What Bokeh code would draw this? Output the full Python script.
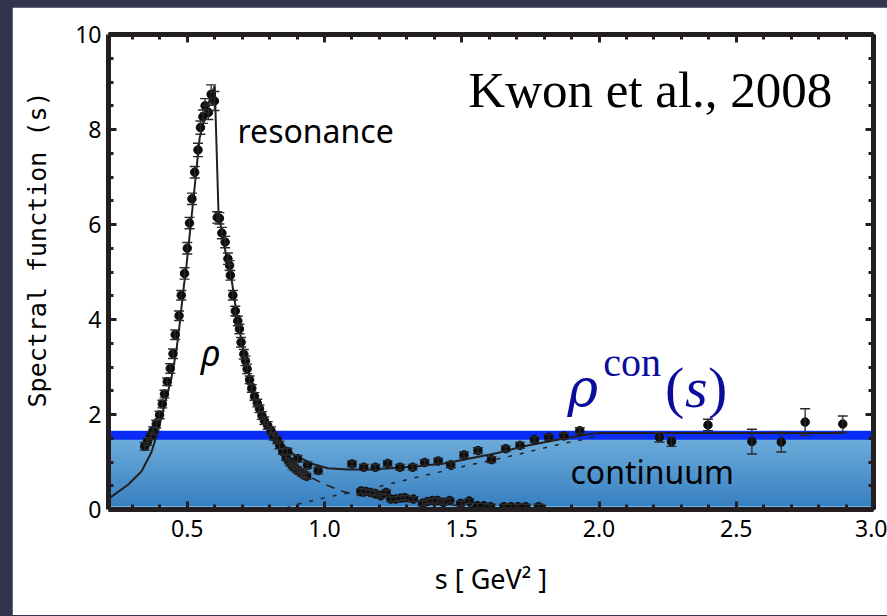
from bokeh.plotting import figure
from bokeh.models import (ColumnDataSource, Whisker, TeeHead, BoxAnnotation, Label,
                          LinearAxis, SingleIntervalTicker, PrintfTickFormatter, Range1d,
                          CustomJSTickFormatter)
from bokeh.embed import file_html
from bokeh.resources import INLINE

# ---------------- data ----------------
s_data = [0.345, 0.355, 0.367, 0.375, 0.387, 0.399, 0.409, 0.417, 0.427, 0.438,
          0.448, 0.456, 0.470, 0.478, 0.490, 0.500, 0.508, 0.517, 0.527, 0.539,
          0.548, 0.557, 0.565, 0.577, 0.587, 0.599,
          0.609, 0.617, 0.626, 0.638, 0.648, 0.654, 0.657, 0.666, 0.675, 0.684,
          0.690, 0.696, 0.706, 0.712, 0.718, 0.727, 0.735, 0.745, 0.755, 0.763,
          0.772, 0.781, 0.793, 0.805, 0.815, 0.827, 0.836,
          0.865, 0.902, 0.938, 0.977,
          0.848, 0.860, 0.870, 0.876, 0.883, 0.890, 0.899, 0.908, 0.918, 0.927, 0.935,
          1.100, 1.143, 1.185, 1.230, 1.275, 1.321, 1.365, 1.414, 1.460, 1.508,
          1.559, 1.608, 1.660, 1.712, 1.765, 1.817, 1.872, 1.930,
          1.133, 1.151, 1.167, 1.184, 1.205, 1.224, 1.242, 1.260, 1.278, 1.293,
          1.324, 1.357, 1.375, 1.393, 1.412, 1.433, 1.456, 1.496, 1.527, 1.557,
          1.581, 1.605, 1.654, 1.680, 1.705, 1.733, 1.780,
          2.220, 2.264, 2.397, 2.557, 2.664, 2.751, 2.888]
rho_data = [1.33, 1.43, 1.55, 1.66, 1.80, 1.99, 2.22, 2.43, 2.69, 2.97,
            3.28, 3.68, 4.08, 4.51, 4.97, 5.50, 6.03, 6.54, 7.10, 7.57,
            8.04, 8.27, 8.50, 8.36, 8.74, 8.60,
            6.15, 6.13, 5.82, 5.63, 5.28, 5.14, 4.93, 4.51, 4.18, 3.97,
            3.80, 3.52, 3.27, 3.13, 2.96, 2.73, 2.55, 2.38, 2.24, 2.12,
            1.98, 1.87, 1.77, 1.66, 1.54, 1.47, 1.36,
            1.22, 1.07, 0.93, 0.82,
            1.22, 1.09, 1.02, 0.97, 0.92, 0.88, 0.84, 0.80, 0.76, 0.73, 0.70,
            0.96, 0.89, 0.89, 0.97, 0.89, 0.89, 0.99, 1.02, 0.94, 1.15,
            1.24, 1.05, 1.28, 1.35, 1.47, 1.52, 1.55, 1.66,
            0.39, 0.38, 0.36, 0.34, 0.29, 0.36, 0.22, 0.22, 0.24, 0.25,
            0.22, 0.13, 0.17, 0.19, 0.19, 0.15, 0.19, 0.13, 0.18, 0.08,
            0.08, 0.06, 0.06, 0.06, 0.06, 0.06, 0.06,
            1.52, 1.43, 1.78, 1.43, 1.42, 1.84, 1.80]
rho_err = [0.08] * 9 + [0.10] * 5 + [0.12] * 5 + [0.14] * 3 + [0.15] * 2 + [0.20] * 2 + \
          [0.12] * 5 + [0.10] * 10 + [0.08] * 12 + \
          [0.07] * 4 + [0.06] * 11 + \
          [0.06] * 18 + \
          [0.05] * 27 + \
          [0.10, 0.10, 0.12, 0.26, 0.21, 0.28, 0.17]

# total fit (solid)
fit_s = [0.213, 0.224, 0.284, 0.333, 0.369, 0.393, 0.417, 0.442, 0.460, 0.472, 0.488,
         0.494, 0.520, 0.545, 0.575, 0.600, 0.614, 0.624, 0.640, 0.660, 0.684, 0.715,
         0.751, 0.793, 0.836, 0.890, 0.951, 1.012, 1.084, 1.157, 1.242, 1.339, 1.436,
         1.533, 1.630, 1.727, 1.848, 1.969, 2.000, 2.896]
fit_rho = [0.22, 0.27, 0.52, 0.80, 1.20, 1.64, 2.20, 2.76, 3.33, 3.89, 4.73,
           4.97, 6.40, 7.82, 8.52, 8.92, 6.20, 5.92, 5.40, 4.90, 3.96, 3.05,
           2.34, 1.78, 1.43, 1.15, 0.97, 0.87, 0.84, 0.84, 0.87, 0.91, 0.97,
           1.08, 1.19, 1.33, 1.47, 1.59, 1.61, 1.61]
# resonance part (dashed)
res_s = [0.836, 0.890, 0.935, 0.993, 1.060, 1.130, 1.230, 1.350, 1.500, 1.620, 1.750]
res_rho = [1.40, 1.00, 0.72, 0.55, 0.39, 0.29, 0.21, 0.14, 0.08, 0.04, 0.01]
# continuum part (dotted)
con_s = [0.860, 0.902, 0.951, 1.036, 1.169, 1.315, 1.508, 1.690, 1.875, 1.957, 2.000]
con_rho = [0.03, 0.11, 0.18, 0.29, 0.44, 0.65, 0.91, 1.14, 1.40, 1.49, 1.57]

# continuum band (threshold level)
band_low, band_high = 1.47, 1.66

x_ticks_interval = 0.5
y_ticks_interval = 2

INK = "#231f20"

p = figure(width=875, height=608, output_backend="svg", toolbar_location=None,
           x_range=Range1d(0.213, 3.0), y_range=Range1d(0, 10),
           min_border_left=96, min_border_right=14, min_border_top=27, min_border_bottom=106,
           background_fill_color="white", border_fill_color="white")
p.outline_line_color = None
p.grid.visible = False

# ---------- gradient continuum fill (stacked, no seams) ----------
n = 30
top_rgb = (108, 172, 219)
bot_rgb = (54, 126, 193)
for i in range(n):
    b = band_low * i / n
    f = (i + 0.5) / n
    c = tuple(int(bot_rgb[k] + (top_rgb[k] - bot_rgb[k]) * f) for k in range(3))
    p.add_layout(BoxAnnotation(bottom=b, top=band_low + 0.01, fill_color="#%02x%02x%02x" % c,
                               fill_alpha=1, line_color=None, level="underlay"))
p.add_layout(BoxAnnotation(bottom=0, top=0.07, fill_color="#80cff4", fill_alpha=1,
                           line_color=None, level="underlay"))
p.add_layout(BoxAnnotation(bottom=band_low, top=band_high, fill_color="#0a2cf5",
                           fill_alpha=1, line_color=None, level="underlay"))

# ---------- curves ----------
p.line(fit_s, fit_rho, line_color=INK, line_width=2)
p.line(res_s, res_rho, line_color=INK, line_width=1.5, line_dash="9 7")
p.line(con_s, con_rho, line_color=INK, line_width=1.5, line_dash="4 8")

# ---------- data with error bars ----------
src = ColumnDataSource(dict(s=s_data, rho=rho_data,
                            lo=[r - e for r, e in zip(rho_data, rho_err)],
                            hi=[r + e for r, e in zip(rho_data, rho_err)]))
w = Whisker(source=src, base="s", lower="lo", upper="hi", line_color="#2a2a2a",
            line_width=1.3, level="glyph")
w.upper_head = TeeHead(size=10, line_color="#2a2a2a", line_width=1.4)
w.lower_head = TeeHead(size=10, line_color="#2a2a2a", line_width=1.4)
p.add_layout(w)
p.scatter("s", "rho", source=src, size=8.5, fill_color="#0d0d0d", line_color="#0d0d0d")

# ---------- axes ----------
def style_axis(ax, ticker, show_labels):
    ax.ticker = ticker
    ax.axis_line_width = 5
    ax.axis_line_color = INK
    ax.major_tick_in = 8
    ax.major_tick_out = 0
    ax.minor_tick_in = 5
    ax.minor_tick_out = 0
    ax.major_tick_line_width = 3
    ax.minor_tick_line_width = 3
    ax.major_tick_line_color = INK
    ax.minor_tick_line_color = INK
    if show_labels:
        ax.major_label_text_font = "Noto Sans"
        ax.major_label_text_font_size = "23px"
        ax.major_label_text_color = "black"
    else:
        ax.formatter = CustomJSTickFormatter(code="return ''")
        ax.major_label_standoff = 0

xt = lambda: SingleIntervalTicker(interval=x_ticks_interval, num_minor_ticks=5)
yt = lambda: SingleIntervalTicker(interval=y_ticks_interval, num_minor_ticks=4)

style_axis(p.xaxis[0], xt(), True)
p.xaxis[0].formatter = PrintfTickFormatter(format="%.1f")
p.xaxis[0].major_label_standoff = 10
p.xaxis[0].axis_label = "s [ GeV² ]"
p.xaxis[0].axis_label_text_font = "Noto Sans"
p.xaxis[0].axis_label_text_font_size = "27px"
p.xaxis[0].axis_label_text_font_style = "normal"
p.xaxis[0].axis_label_text_color = "black"
p.xaxis[0].axis_label_standoff = 20

style_axis(p.yaxis[0], yt(), True)
p.yaxis[0].major_label_standoff = 7
# leading no-break spaces push the (rotated) title a little upward, as in the original
p.yaxis[0].axis_label = "\u00a0" * 3 + "Spectral function (s)"
p.yaxis[0].axis_label_text_font = "DejaVu Sans Mono"
p.yaxis[0].axis_label_text_font_size = "25px"
p.yaxis[0].axis_label_text_font_style = "normal"
p.yaxis[0].axis_label_text_color = "black"
p.yaxis[0].axis_label_standoff = 20

top_ax = LinearAxis()
style_axis(top_ax, xt(), False)
p.add_layout(top_ax, "above")
right_ax = LinearAxis()
style_axis(right_ax, yt(), False)
p.add_layout(right_ax, "right")

# ---------- texts ----------
p.add_layout(Label(x=2.85, y=8.84, text="Kwon et al., 2008", text_align="right",
                   text_baseline="alphabetic", text_font="Liberation Serif",
                   text_font_size="51px", text_color="black"))
p.add_layout(Label(x=0.683, y=7.98, text="resonance", text_align="left",
                   text_baseline="alphabetic", text_font="Noto Sans",
                   text_font_size="32px", text_color="black"))
p.add_layout(Label(x=0.585, y=3.31, text="ρ", text_align="center",
                   text_baseline="middle", text_font="Noto Sans", text_font_style="italic",
                   text_font_size="36px", text_color="black"))
p.add_layout(Label(x=1.896, y=0.80, text="continuum", text_align="left",
                   text_baseline="alphabetic", text_font="Noto Sans",
                   text_font_size="32px", text_color="black"))
BLUE = "#0c0c9c"
p.add_layout(Label(x=1.885, y=2.55, text="ρ", text_align="left", text_baseline="alphabetic",
                   text_font="DejaVu Serif", text_font_style="italic",
                   text_font_size="52px", text_color=BLUE))
p.add_layout(Label(x=2.015, y=3.10, text="con", text_align="left", text_baseline="alphabetic",
                   text_font="Liberation Serif", text_font_size="40px", text_color=BLUE))
p.add_layout(Label(x=2.24, y=2.57, text="(", text_align="left", text_baseline="alphabetic",
                   text_font="Liberation Serif", text_font_size="58px", text_color=BLUE))
p.add_layout(Label(x=2.313, y=2.57, text="s", text_align="left", text_baseline="alphabetic",
                   text_font="Liberation Serif", text_font_style="italic",
                   text_font_size="58px", text_color=BLUE))
p.add_layout(Label(x=2.397, y=2.57, text=")", text_align="left", text_baseline="alphabetic",
                   text_font="Liberation Serif", text_font_size="58px", text_color=BLUE))

html = file_html(p, INLINE)
html = html.replace(
    "</head>",
    "<style>html, body{background-color:#33354f; margin:0;} "
    "body{padding:7px 0 0 12px; box-sizing:border-box;}</style></head>", 1)
open("out.html", "w").write(html)
